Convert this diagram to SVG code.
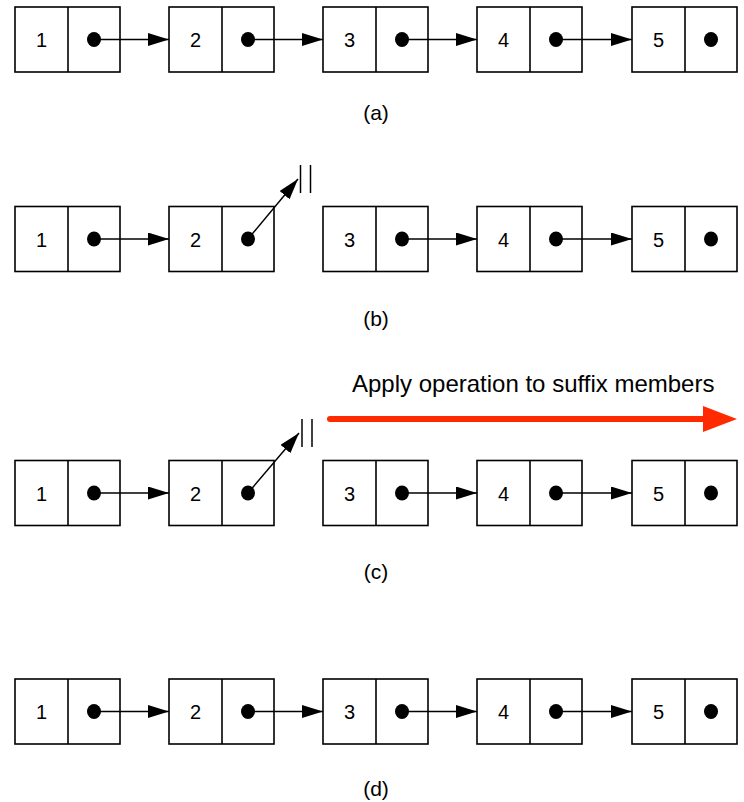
<svg xmlns="http://www.w3.org/2000/svg" width="744" height="802" viewBox="0 0 744 802">
<style>
.box{fill:#fff;stroke:#000;stroke-width:1.6}
.div{stroke:#000;stroke-width:1.6}
.num{font-family:"Liberation Sans",Arial,sans-serif;font-size:20px;text-anchor:middle;fill:#000}
.lbl{font-family:"Liberation Sans",Arial,sans-serif;font-size:21px;text-anchor:middle;fill:#000}
.cap{font-family:"Liberation Sans",Arial,sans-serif;font-size:24px;fill:#000}
.con{stroke:#000;stroke-width:1.5;fill:none;marker-end:url(#ah)}
.bar{stroke:#000;stroke-width:1.5}
</style>
<defs>
<marker id="ah" markerUnits="userSpaceOnUse" markerWidth="21" markerHeight="13" refX="21" refY="6.5" orient="auto"><path d="M0,0 L21,6.5 L0,13 z" fill="#000"/></marker>
<g id="node">
<rect class="box" x="0" y="0" width="105" height="65"/>
<line class="div" x1="53" y1="0" x2="53" y2="65"/>
<ellipse cx="79" cy="32.5" rx="7" ry="7.5" fill="#000"/>
</g>
</defs>

<!-- Row (a) -->
<g id="a1"><use href="#node" x="15" y="7"/><text class="num" x="41.5" y="47">1</text></g>
<g id="a2"><use href="#node" x="169" y="7"/><text class="num" x="195.5" y="47">2</text></g>
<g id="a3"><use href="#node" x="323" y="7"/><text class="num" x="349.5" y="47">3</text></g>
<g id="a4"><use href="#node" x="477" y="7"/><text class="num" x="503.5" y="47">4</text></g>
<g id="a5"><use href="#node" x="632" y="7"/><text class="num" x="658.5" y="47">5</text></g>
<text class="lbl" x="376" y="120">(a)</text>

<!-- Row (b) -->
<g id="b1"><use href="#node" x="15" y="206.5"/><text class="num" x="41.5" y="246.5">1</text></g>
<g id="b2"><use href="#node" x="169" y="206.5"/><text class="num" x="195.5" y="246.5">2</text></g>
<g id="b3"><use href="#node" x="323" y="206.5"/><text class="num" x="349.5" y="246.5">3</text></g>
<g id="b4"><use href="#node" x="477" y="206.5"/><text class="num" x="503.5" y="246.5">4</text></g>
<g id="b5"><use href="#node" x="632" y="206.5"/><text class="num" x="658.5" y="246.5">5</text></g>
<text class="lbl" x="376" y="326">(b)</text>

<!-- Row (c) -->
<g id="c1"><use href="#node" x="15" y="460.5"/><text class="num" x="41.5" y="500.5">1</text></g>
<g id="c2"><use href="#node" x="169" y="460.5"/><text class="num" x="195.5" y="500.5">2</text></g>
<g id="c3"><use href="#node" x="323" y="460.5"/><text class="num" x="349.5" y="500.5">3</text></g>
<g id="c4"><use href="#node" x="477" y="460.5"/><text class="num" x="503.5" y="500.5">4</text></g>
<g id="c5"><use href="#node" x="632" y="460.5"/><text class="num" x="658.5" y="500.5">5</text></g>
<text class="lbl" x="376" y="579">(c)</text>
<g id="suffix-op">
<text class="cap" x="352" y="392">Apply operation to suffix members</text>
<line x1="330" y1="419" x2="706" y2="419" stroke="#ff2a00" stroke-width="6" stroke-linecap="round"/>
<polygon points="703,406 737,419 703,432" fill="#ff2a00"/>
</g>

<!-- Row (d) -->
<g id="d1"><use href="#node" x="15" y="679"/><text class="num" x="41.5" y="719">1</text></g>
<g id="d2"><use href="#node" x="169" y="679"/><text class="num" x="195.5" y="719">2</text></g>
<g id="d3"><use href="#node" x="323" y="679"/><text class="num" x="349.5" y="719">3</text></g>
<g id="d4"><use href="#node" x="477" y="679"/><text class="num" x="503.5" y="719">4</text></g>
<g id="d5"><use href="#node" x="632" y="679"/><text class="num" x="658.5" y="719">5</text></g>
<text class="lbl" x="376" y="796">(d)</text>

<g id="connectors">
<!-- (a) -->
<line class="con" x1="94" y1="39.5" x2="169" y2="39.5"/>
<line class="con" x1="248" y1="39.5" x2="323" y2="39.5"/>
<line class="con" x1="402" y1="39.5" x2="477" y2="39.5"/>
<line class="con" x1="556" y1="39.5" x2="632" y2="39.5"/>
<!-- (b) -->
<line class="con" x1="94" y1="239" x2="169" y2="239"/>
<line class="con" x1="248" y1="239" x2="298" y2="179"/>
<line class="bar" x1="300.5" y1="165" x2="300.5" y2="193"/>
<line class="bar" x1="310.5" y1="165" x2="310.5" y2="193"/>
<line class="con" x1="402" y1="239" x2="477" y2="239"/>
<line class="con" x1="556" y1="239" x2="632" y2="239"/>
<!-- (c) -->
<line class="con" x1="94" y1="493" x2="169" y2="493"/>
<line class="con" x1="248" y1="493" x2="299" y2="433"/>
<line class="bar" x1="302" y1="419" x2="302" y2="447"/>
<line class="bar" x1="312" y1="419" x2="312" y2="447"/>
<line class="con" x1="402" y1="493" x2="477" y2="493"/>
<line class="con" x1="556" y1="493" x2="632" y2="493"/>
<!-- (d) -->
<line class="con" x1="94" y1="711.5" x2="169" y2="711.5"/>
<line class="con" x1="248" y1="711.5" x2="323" y2="711.5"/>
<line class="con" x1="402" y1="711.5" x2="477" y2="711.5"/>
<line class="con" x1="556" y1="711.5" x2="632" y2="711.5"/>
</g>
</svg>
